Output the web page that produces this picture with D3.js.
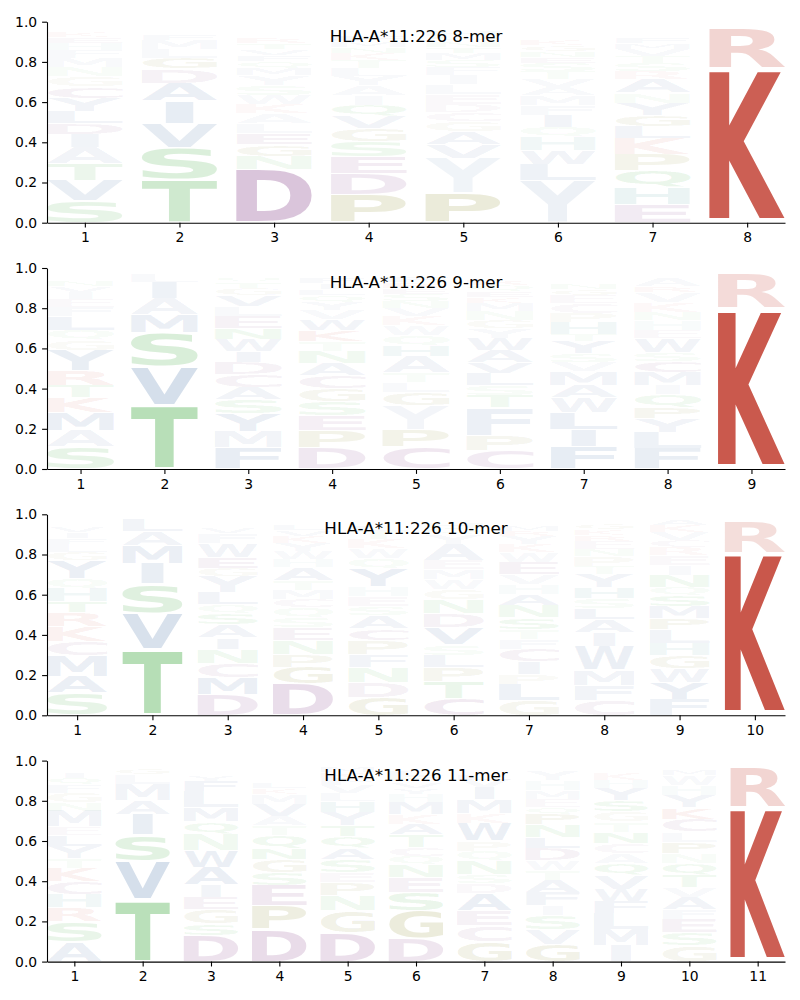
<!DOCTYPE html>
<html><head><meta charset="utf-8">
<script src="https://cdn.jsdelivr.net/npm/d3@7"></script>
<style>body{margin:0;background:#fff} svg{display:block}</style>
</head><body>
<svg id="chart" width="800" height="1000"></svg>
<script>
// ---------------- data ----------------
const titles = ["HLA-A*11:226 8-mer", "HLA-A*11:226 9-mer", "HLA-A*11:226 10-mer", "HLA-A*11:226 11-mer"];
const yTicks = [0, 0.2, 0.4, 0.6, 0.8, 1.0];
// each column: [letter, frequency, (optional) weight]; listed bottom -> top
const logo8 = [
 [["S",.11],["V",.10],["T",.085],["A",.08],["I",.065],["D",.055],["L",.06],["Y",.065],["C",.06],["G",.05],["N",.045],["M",.045],["F",.04],["H",.035],["E",.03],["K",.025],["R",.02],["W",.015],["P",.01],["Q",.01]],
 [["T",.215],["S",.16],["V",.12],["I",.11],["A",.09],["D",.07],["G",.055],["L",.045],["M",.045],["F",.025],["E",.015],["Y",.012],["N",.01],["Q",.008],["C",.007],["K",.006],["H",.005],["R",.004],["W",.003],["P",.002]],
 [["D",.265],["N",.065],["G",.06],["E",.055],["L",.05],["A",.05],["K",.045],["W",.045],["S",.05],["Y",.05],["M",.035],["Q",.035],["F",.03],["V",.03],["T",.03],["R",.025],["H",.02],["I",.02],["C",.015],["P",.01]],
 [["P",.14],["D",.105],["E",.085],["S",.075],["G",.065],["V",.06],["Q",.055],["I",.05],["A",.05],["Y",.045],["L",.04],["T",.04],["K",.035],["N",.03],["M",.03],["F",.025],["H",.02],["W",.02],["C",.015],["R",.01]],
 [["P",.145],["Y",.175,.07],["V",.07],["A",.065],["G",.05],["C",.045],["D",.04],["E",.05],["L",.05],["I",.045],["F",.04],["S",.035],["M",.035],["T",.03],["N",.03],["Q",.025],["H",.025],["K",.02],["W",.02],["R",.015]],
 [["Y",.21,.085],["L",.08],["W",.07],["H",.065],["Q",.05],["I",.06],["F",.05],["M",.05],["A",.04],["V",.04],["T",.04],["S",.04],["E",.03],["N",.03],["G",.03],["K",.03],["R",.02],["D",.02],["P",.01],["C",.01]],
 [["E",.09],["H",.085],["Q",.085],["P",.08],["K",.08],["L",.06],["G",.055],["Y",.06],["N",.05],["A",.07],["R",.04],["S",.04],["T",.035],["V",.035],["M",.03],["F",.025],["D",.02],["I",.02],["W",.015],["C",.01]],
 [["K",.77],["R",.2],["H",.01],["Y",.008],["Q",.005],["N",.004],["S",.003]]
];
const logo9 = [
 [["S",.11],["A",.08],["M",.09],["K",.075],["T",.06],["R",.075],["Y",.1],["G",.05],["Q",.05],["L",.07],["F",.045],["E",.04],["I",.035],["V",.03],["N",.025],["H",.02],["D",.015],["P",.01],["W",.01],["C",.01]],
 [["T",.32],["V",.19],["S",.17],["M",.09],["A",.08],["I",.08],["L",.04],["Y",.01],["F",.01],["G",.01]],
 [["F",.105],["M",.08],["Y",.09],["S",.07],["A",.06],["C",.065],["D",.06],["I",.055],["W",.06],["N",.055],["E",.06],["L",.05],["V",.055],["G",.035],["T",.03],["Q",.025],["K",.015],["R",.01],["H",.01],["P",.01]],
 [["D",.105],["P",.085],["E",.075],["S",.07],["G",.065],["C",.065],["A",.06],["N",.06],["T",.05],["K",.055],["W",.055],["V",.045],["Y",.04],["Q",.035],["L",.03],["I",.03],["F",.025],["R",.02],["H",.015],["M",.015]],
 [["C",.11],["P",.085],["Y",.12,.06],["G",.065],["L",.05],["T",.05],["A",.08],["H",.055],["Q",.05],["W",.05],["K",.045],["V",.04],["N",.035],["S",.035],["E",.03],["R",.03],["F",.025],["D",.02],["M",.015],["I",.01]],
 [["C",.09],["P",.075],["F",.14,.09],["T",.06],["S",.05],["L",.06],["V",.055],["A",.06],["W",.06],["Y",.05],["G",.04],["N",.045],["M",.04],["K",.03],["E",.03],["Q",.03],["R",.025],["H",.02],["D",.02],["I",.02]],
 [["F",.11],["I",.085],["L",.085],["W",.075],["A",.06],["M",.07],["V",.045],["S",.045],["Y",.06],["T",.035],["H",.06],["P",.045],["C",.05],["E",.04],["G",.03],["N",.025],["Q",.02],["K",.02],["R",.015],["D",.015]],
 [["F",.1],["L",.08],["Y",.07],["P",.055],["Q",.065],["I",.045],["M",.065],["C",.055],["S",.045],["W",.07],["E",.04],["H",.05],["N",.04],["K",.05],["V",.05],["R",.03],["A",.04],["G",.02],["T",.015],["D",.01]],
 [["K",.8],["R",.17],["Y",.015],["H",.005],["Q",.005]]
];
const logo10 = [
 [["S",.11],["A",.085],["M",.1],["C",.07],["K",.075],["R",.07],["T",.055],["H",.065],["Q",.05],["Y",.09],["G",.04],["L",.04],["F",.03],["I",.03],["V",.025],["N",.02],["E",.02],["W",.015],["D",.01],["P",.01]],
 [["T",.33],["V",.18],["S",.145],["I",.1],["M",.09],["A",.07],["L",.06],["F",.015],["Y",.01]],
 [["D",.105],["M",.085],["C",.07],["N",.07],["I",.055],["A",.065],["S",.055],["Q",.045],["L",.06],["Y",.08],["G",.04],["E",.055],["W",.07],["F",.05],["V",.025],["T",.02],["K",.015],["R",.01],["H",.01],["P",.01]],
 [["D",.155],["G",.085],["P",.065],["N",.07],["E",.06],["S",.05],["Q",.05],["C",.04],["M",.045],["T",.05],["A",.065],["H",.04],["W",.04],["Y",.04],["K",.035],["V",.03],["L",.03],["R",.02],["F",.02],["I",.01]],
 [["G",.09],["D",.075],["N",.075],["F",.06],["P",.07],["C",.06],["A",.065],["S",.045],["E",.05],["H",.05],["Y",.09],["Q",.05],["W",.05],["K",.045],["T",.04],["L",.03],["V",.02],["R",.015],["M",.01],["I",.01]],
 [["C",.085],["T",.085],["P",.07],["L",.06],["S",.05],["V",.085],["D",.07],["N",.07],["G",.05],["W",.05],["M",.05],["E",.045],["A",.08],["Y",.05],["Q",.03],["H",.025],["K",.02],["R",.015],["F",.01],["I",.01]],
 [["G",.075],["L",.08],["P",.05],["I",.06],["C",.065],["F",.05],["T",.045],["S",.06],["N",.06],["A",.055],["H",.05],["V",.05],["E",.06],["W",.05],["K",.04],["Y",.04],["R",.025],["M",.025],["D",.02],["Q",.02]],
 [["C",.075],["F",.075],["M",.075],["W",.12,.09],["I",.065],["A",.065],["L",.055],["S",.05],["H",.055],["Y",.065],["T",.04],["P",.05],["N",.035],["E",.04],["R",.03],["K",.03],["G",.025],["Q",.02],["V",.02],["D",.01]],
 [["F",.08],["Y",.085],["W",.07],["G",.065],["H",.06],["L",.065],["P",.055],["M",.06],["S",.055],["Q",.04],["N",.06],["I",.05],["E",.05],["R",.04],["C",.035],["V",.04],["K",.035],["A",.03],["T",.015],["D",.01]],
 [["K",.81],["R",.16],["Y",.02],["H",.005]]
];
const logo11 = [
 [["A",.1],["S",.1],["R",.07],["H",.065],["C",.065],["K",.065],["T",.05],["Y",.06],["L",.055],["E",.04],["M",.08],["N",.04],["G",.05],["F",.04],["Q",.035],["I",.025],["V",.02],["W",.01],["D",.01],["P",.01]],
 [["T",.31],["V",.19],["S",.13],["I",.1],["A",.07],["M",.08],["L",.05],["G",.03],["F",.02],["Y",.015]],
 [["D",.13],["S",.06],["G",.07],["E",.06],["I",.06],["A",.09],["W",.085],["N",.08],["Q",.06],["M",.07],["L",.08],["F",.055],["Y",.03],["T",.02],["H",.015],["K",.01],["R",.01],["V",.01],["C",.005],["P",.005]],
 [["D",.16],["P",.12],["E",.1],["S",.065],["G",.065],["N",.055],["Q",.065],["T",.045],["A",.05],["V",.06],["M",.05],["K",.03],["L",.025],["R",.02],["F",.02],["I",.015],["H",.01],["W",.01],["Y",.01],["C",.01]],
 [["D",.145],["G",.11],["N",.075],["P",.065],["E",.05],["S",.065],["A",.055],["Q",.06],["T",.055],["Y",.065],["H",.055],["L",.04],["V",.04],["F",.035],["K",.03],["M",.025],["W",.02],["R",.01],["C",.005],["I",.005]],
 [["D",.115],["G",.14],["S",.09],["E",.075],["N",.06],["Q",.045],["C",.045],["T",.06],["A",.055],["K",.05],["M",.06],["H",.04],["Y",.03],["V",.03],["P",.03],["L",.025],["F",.02],["R",.015],["W",.01],["I",.01]],
 [["G",.1],["C",.08],["E",.075],["A",.085],["D",.05],["S",.045],["N",.065],["Q",.05],["P",.05],["W",.09],["K",.045],["M",.07],["I",.06],["V",.04],["L",.025],["Y",.02],["F",.015],["H",.01],["R",.01],["T",.005]],
 [["G",.085],["V",.075],["S",.07],["I",.05],["F",.065],["A",.06],["T",.05],["W",.05],["D",.06],["L",.055],["N",.06],["P",.055],["Q",.035],["E",.04],["M",.04],["H",.05],["Y",.05],["K",.015],["R",.01],["C",.01]],
 [["I",.08],["M",.08],["L",.08],["F",.06],["W",.06],["V",.07],["Q",.06],["A",.05],["C",.05],["N",.055],["T",.05],["G",.05],["S",.055],["Y",.06],["H",.04],["K",.035],["R",.02],["E",.01],["D",.01],["P",.01]],
 [["G",.08],["S",.065],["E",.065],["F",.05],["A",.06],["V",.05],["T",.06],["Q",.06],["N",.05],["P",.055],["L",.05],["C",.065],["K",.055],["Y",.06],["H",.05],["W",.05],["M",.03],["R",.02],["D",.015],["I",.01]],
 [["K",.77],["R",.2],["Y",.02],["H",.005]]
];
const panels = [logo8, logo9, logo10, logo11];

// residue classes -> colour
const residueClass = {K:"basic",R:"basic",H:"his",S:"polar",T:"polar",N:"polar",Q:"polar",
  A:"hydro",V:"hydro",L:"hydro",I:"hydro",M:"hydro",F:"hydro",W:"hydro",Y:"hydro",
  D:"acid",E:"acid",C:"acid",G:"gp",P:"gp"};
const classColor = {basic:"#c0392b",his:"#1f8a8a",polar:"#2ca02c",hydro:"#2f5d9b",acid:"#7a2f7d",gp:"#7a7a10"};

// ---------------- layout ----------------
const svg = d3.select("#chart");
const left = 47, right = 785, top0 = 21.7, step = 246.3, ph = 201;
const colWidth = 0.8, vpad = 0.06;

// glyph metrics via canvas
const FPX = 100, FONT = `bold ${FPX}px "DejaVu Sans"`;
const ctx = document.createElement("canvas").getContext("2d");
ctx.font = FONT;
const metricCache = {};
function metric(ch) {
  if (!metricCache[ch]) {
    const t = ctx.measureText(ch);
    metricCache[ch] = {L: t.actualBoundingBoxLeft, R: t.actualBoundingBoxRight,
      A: t.actualBoundingBoxAscent, D: t.actualBoundingBoxDescent};
  }
  return metricCache[ch];
}
const mE = metric("E"), wE = mE.L + mE.R;

panels.forEach((cols, pi) => {
  const n = cols.length;
  const top = top0 + pi * step, bottom = top + ph;
  const x = d3.scaleLinear().domain([0.6, n + 0.4]).range([left, right]);
  const y = d3.scaleLinear().domain([0, 1]).range([bottom, top]);
  const g = svg.append("g");

  const clipId = "clip" + pi;
  svg.append("clipPath").attr("id", clipId).append("rect")
    .attr("x", left).attr("y", top - 1).attr("width", right - left + 2).attr("height", ph + 1);
  const gl = g.append("g").attr("clip-path", `url(#${clipId})`);

  cols.forEach((col, ci) => {
    const pos = ci + 1;
    const x0 = x(pos - colWidth / 2), x1 = x(pos + colWidth / 2), bw = x1 - x0, cx = x(pos);
    let cum = 0;
    col.forEach(([ch, v, wgt]) => {
      const yb = y(cum), yt = y(cum + v);
      cum += v;
      const bh = yb - yt;
      const pad = bh * vpad / 2;
      const gh = bh - 2 * pad;
      if (gh <= 0.05) return;
      const m = metric(ch);
      const w = m.L + m.R, h = m.A + m.D;
      const sx = bw / Math.max(w, wE), sy = gh / h;
      const gx = cx - (w * sx) / 2;
      const alpha = Math.min(1, wgt !== undefined ? wgt : v * 1.05);
      gl.append("text")
        .attr("transform", `translate(${gx},${yt + pad}) scale(${sx},${sy}) translate(${m.L},${m.A})`)
        .attr("font-family", "DejaVu Sans").attr("font-weight", "bold").attr("font-size", FPX)
        .attr("fill", classColor[residueClass[ch]]).attr("fill-opacity", alpha)
        .text(ch);
    });
  });

  // axes
  const xa = g.append("g").attr("transform", `translate(0,${bottom})`)
    .call(d3.axisBottom(x).tickValues(d3.range(1, n + 1)).tickFormat(d3.format("d"))
      .tickSize(4.9).tickSizeOuter(0).tickPadding(4.9));
  const ya = g.append("g").attr("transform", `translate(${left},0)`)
    .call(d3.axisLeft(y).tickValues(yTicks).tickFormat(d3.format(".1f"))
      .tickSize(4.9).tickSizeOuter(0).tickPadding(4.9));
  [xa, ya].forEach(a => {
    a.selectAll("text").attr("font-family", "DejaVu Sans").attr("font-size", 13.9).attr("fill", "#000");
    a.selectAll("line").attr("stroke", "#000").attr("stroke-width", 1.1);
    a.select(".domain").attr("stroke", "#000").attr("stroke-width", 1.1);
  });

  g.append("text").attr("x", (left + right) / 2).attr("y", top + 20)
    .attr("text-anchor", "middle").attr("font-family", "DejaVu Sans").attr("font-size", 16.7)
    .attr("fill", "#000").text(titles[pi]);
});
</script>
</body></html>
